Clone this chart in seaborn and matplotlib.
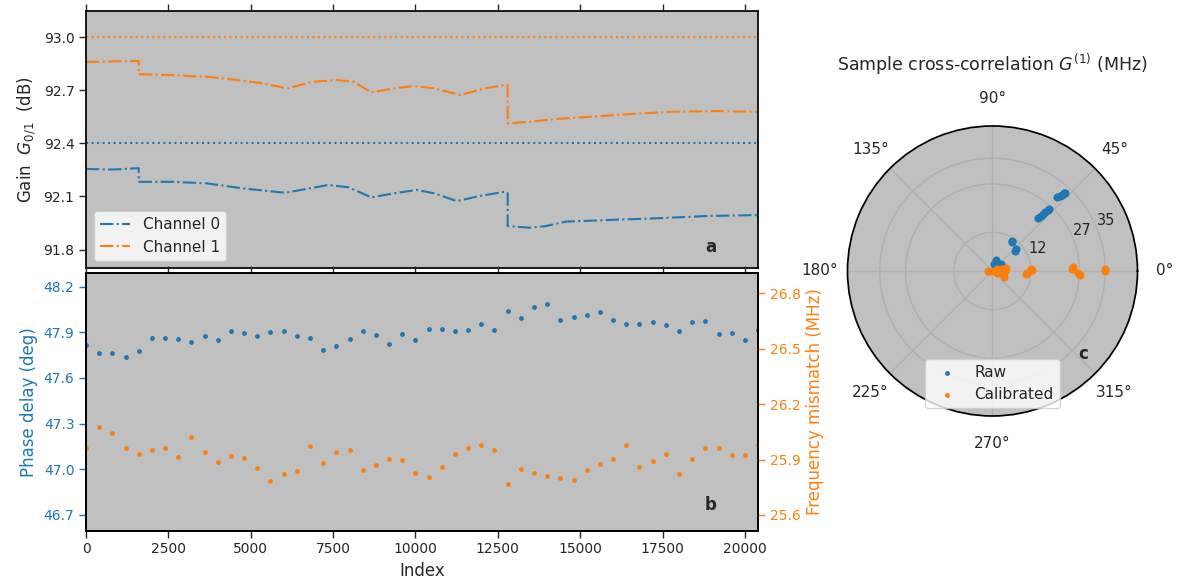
import numpy as np
import matplotlib
matplotlib.use("Agg")
import matplotlib.pyplot as plt
from matplotlib.ticker import FormatStrFormatter
import seaborn as sns

# ---- data ----
# panel a: gain per channel (steps at ~1600 and ~12800)
gain_idx_0 = [0, 800, 1600, 1600, 2600, 3670, 4750, 6050, 7350, 7970, 8660, 9350,
              10040, 10570, 11260, 11950, 12720, 12800, 12800, 13480, 13950, 14560,
              15790, 17320, 18850, 20400]
gain_ch0 = [92.255, 92.252, 92.260, 92.183, 92.183, 92.174, 92.146, 92.121, 92.165,
            92.152, 92.095, 92.118, 92.137, 92.118, 92.074, 92.103, 92.127, 92.120,
            91.933, 91.924, 91.933, 91.958, 91.967, 91.977, 91.990, 91.995]
gain_idx_1 = [0, 800, 1600, 1600, 2600, 3830, 4600, 5360, 6100, 6900, 7630, 8120,
              8660, 9350, 9960, 10570, 11370, 12100, 12800, 12800, 13480, 14250,
              15330, 16400, 17780, 19150, 20400]
gain_ch1 = [92.859, 92.862, 92.865, 92.790, 92.785, 92.773, 92.757, 92.739, 92.710,
            92.748, 92.757, 92.748, 92.688, 92.710, 92.723, 92.710, 92.673, 92.710,
            92.731, 92.513, 92.522, 92.537, 92.550, 92.564, 92.578, 92.582, 92.578]
target_ch0 = 92.4
target_ch1 = 93.0

# panel b: phase delay and frequency mismatch, one point every 400 samples
sample_idx = list(range(0, 20401, 400))
phase_delay = [47.819, 47.766, 47.764, 47.740, 47.779, 47.863, 47.865, 47.854, 47.837,
               47.878, 47.852, 47.911, 47.898, 47.874, 47.900, 47.907, 47.876, 47.863,
               47.786, 47.810, 47.854, 47.907, 47.885, 47.823, 47.889, 47.850, 47.922,
               47.920, 47.909, 47.914, 47.958, 47.914, 48.037, 47.991, 48.066, 48.088,
               47.980, 48.004, 48.013, 48.035, 47.978, 47.958, 47.958, 47.969, 47.945,
               47.911, 47.969, 47.975, 47.887, 47.896, 47.852, 47.918]
freq_mismatch = [25.965, 26.077, 26.045, 25.961, 25.929, 25.951, 25.961, 25.914, 26.021,
                 25.943, 25.886, 25.918, 25.907, 25.855, 25.786, 25.824, 25.839, 25.972,
                 25.882, 25.943, 25.954, 25.844, 25.871, 25.905, 25.898, 25.828, 25.808,
                 25.858, 25.931, 25.960, 25.981, 25.952, 25.766, 25.851, 25.828, 25.811,
                 25.801, 25.792, 25.842, 25.878, 25.902, 25.981, 25.860, 25.891, 25.929,
                 25.820, 25.905, 25.961, 25.963, 25.923, 25.923, 25.978]

# panel c: G(1) samples, angle in degrees and magnitude in MHz
raw_deg = [48.7, 48.2, 47.8, 47.4, 47.1, 49.3, 48.9, 48.5, 48.1, 47.7, 47.5,
           56.0, 57.0, 42.0, 43.0, 73.0, 60.0, 41.0, 30.0, 50.0, 20.0, 80.0, 10.0]
raw_mag = [30.4, 31.2, 32.0, 32.7, 33.2, 21.8, 22.7, 23.6, 24.6, 25.5, 26.0,
           10.8, 11.2, 9.5, 9.8, 3.7, 3.0, 3.5, 3.2, 2.0, 2.5, 2.2, 1.5]
cal_deg = [0.0, 1.0, -2.3, -1.5, 1.7, 2.5, 3.6, 2.0, -4.5, -3.0,
           -27.0, 14.0, 0.0, 5.0, -5.0, 10.0, -15.0, 180.0, 170.0, -10.0, 0.0, 30.0, -30.0]
cal_mag = [35.0, 34.8, 27.3, 26.6, 24.7, 25.0, 11.9, 12.2, 10.3, 10.7,
           4.0, 4.3, 1.0, 2.0, 2.5, 3.0, 3.5, 1.5, 0.8, 1.5, 3.8, 1.5, 1.5]

blue = "#1f77b4"
orange = "#ff7f0e"

sns.set_theme(style="ticks", rc={
    "axes.facecolor": "silver",
    "axes.edgecolor": "black",
    "axes.linewidth": 1.25,
    "xtick.major.size": 4.8,
    "ytick.major.size": 4.8,
    "xtick.major.width": 1.0,
    "ytick.major.width": 1.0,
    "xtick.labelsize": 10,
    "ytick.labelsize": 10,
    "axes.labelsize": 12,
    "legend.fontsize": 11,
    "legend.facecolor": "white",
    "legend.framealpha": 0.8,
    "legend.edgecolor": "0.8",
})
plt.rcParams["font.family"] = ["DejaVu Sans"]

fig = plt.figure(figsize=(11.8, 5.86), dpi=100)
ax_a = fig.add_axes([0.0729, 0.5422, 0.5695, 0.4385])
ax_b = fig.add_axes([0.0729, 0.0944, 0.5695, 0.4392], sharex=ax_a)
ax_p = fig.add_axes([0.7178, 0.2901, 0.2466, 0.4949], projection="polar")

# ---- a: gain ----
sns.lineplot(x=gain_idx_0, y=gain_ch0, ax=ax_a, color=blue, linestyle="-.",
             linewidth=1.5, estimator=None, sort=False, label="Channel 0")
sns.lineplot(x=gain_idx_1, y=gain_ch1, ax=ax_a, color=orange, linestyle="-.",
             linewidth=1.5, estimator=None, sort=False, label="Channel 1")
ax_a.axhline(target_ch0, color=blue, linestyle=":", linewidth=1.5)
ax_a.axhline(target_ch1, color=orange, linestyle=":", linewidth=1.5)
ax_a.set_ylim(91.695, 93.145)
ax_a.set_yticks([91.8, 92.1, 92.4, 92.7, 93.0])
ax_a.yaxis.set_major_formatter(FormatStrFormatter("%.1f"))
ax_a.set_ylabel("Gain  $G_{0/1}$  (dB)")
ax_a.tick_params(axis="x", top=True, bottom=False, labelbottom=False, labeltop=False)
ax_a.legend(loc="lower left")
ax_a.text(0.929, 0.083, "a", transform=ax_a.transAxes, fontsize=12,
          fontweight="bold", ha="center", va="center")

# ---- b: phase delay / frequency mismatch ----
sns.scatterplot(x=sample_idx, y=phase_delay, ax=ax_b, color=blue, s=12, linewidth=0)
ax_r = ax_b.twinx()
sns.scatterplot(x=sample_idx, y=freq_mismatch, ax=ax_r, color=orange, s=12, linewidth=0)
ax_b.set_xlim(0, 20400)
ax_b.set_xticks([0, 2500, 5000, 7500, 10000, 12500, 15000, 17500, 20000])
ax_b.set_ylim(46.596, 48.288)
ax_b.set_yticks([46.7, 47.0, 47.3, 47.6, 47.9, 48.2])
ax_b.yaxis.set_major_formatter(FormatStrFormatter("%.1f"))
ax_r.set_ylim(25.515, 26.908)
ax_r.set_yticks([25.6, 25.9, 26.2, 26.5, 26.8])
ax_r.yaxis.set_major_formatter(FormatStrFormatter("%.1f"))
ax_b.set_xlabel("Index")
ax_b.set_ylabel("Phase delay (deg)", color=blue)
ax_r.set_ylabel("Frequency mismatch (MHz)", color=orange)
ax_b.tick_params(axis="y", colors=blue)
ax_r.tick_params(axis="y", colors=orange)
ax_b.tick_params(axis="x", top=True)
ax_b.text(0.929, 0.10, "b", transform=ax_b.transAxes, fontsize=12,
          fontweight="bold", ha="center", va="center")

# ---- c: polar cross-correlation ----
sns.scatterplot(x=np.deg2rad(raw_deg), y=raw_mag, ax=ax_p, color=blue, s=34,
                linewidth=0, label="Raw")
sns.scatterplot(x=np.deg2rad(cal_deg), y=cal_mag, ax=ax_p, color=orange, s=34,
                linewidth=0, label="Calibrated")
ax_p.set_rmax(45)
ax_p.set_rticks([12, 27, 35])
ax_p.set_xlabel("")
ax_p.set_ylabel("")
ax_p.grid(True, color="#b0b0b0", linewidth=1.0)
ax_p.tick_params(axis="x", labelsize=11, pad=8)
ax_p.tick_params(axis="y", labelsize=10.5)
ax_p.legend(loc="lower center", markerscale=0.6)
ax_p.set_title("Sample cross-correlation $G^{(1)}$ (MHz)", fontsize=12.5, y=1.16, pad=6)
ax_p.text(0.814, 0.214, "c", transform=ax_p.transAxes, fontsize=12,
          fontweight="bold", ha="center", va="center")

fig.savefig("out.png", dpi=100)
